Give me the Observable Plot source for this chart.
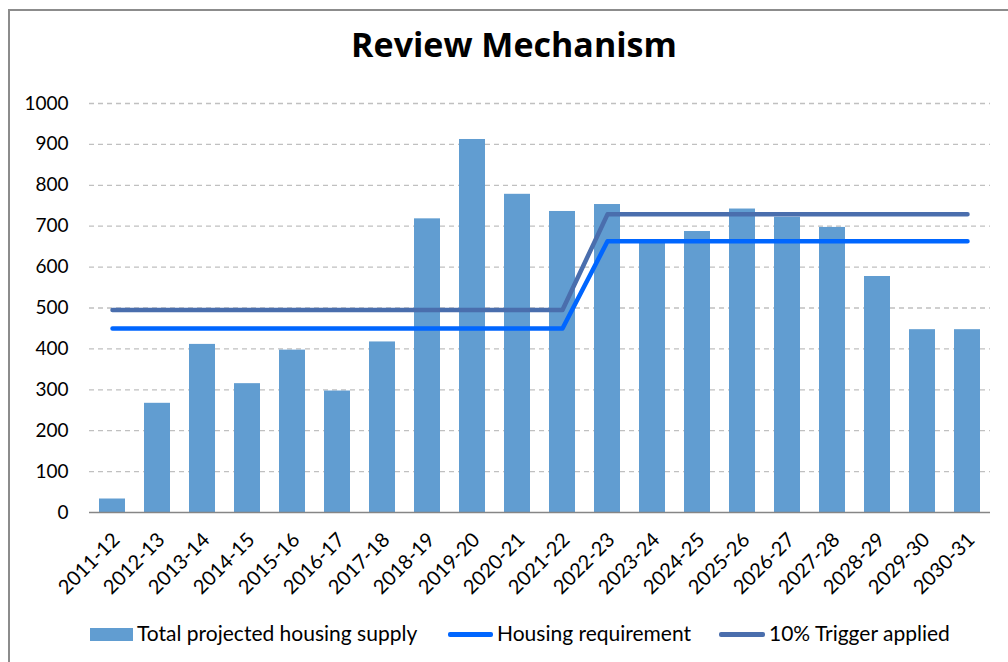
<!DOCTYPE html>
<html><head><meta charset="utf-8">
<script src="https://cdn.jsdelivr.net/npm/d3@7"></script>
<script src="https://cdn.jsdelivr.net/npm/@observablehq/plot@0.6"></script>
<style>
body{margin:0;background:#fff;width:1008px;height:662px;overflow:hidden;position:relative;font-family:Lato,sans-serif;color:#000;}
#frame{position:absolute;left:8px;top:9px;width:1100px;height:700px;border:2px solid #8c8c8c;box-sizing:border-box;}
#title{position:absolute;top:24px;left:0;width:1028px;text-align:center;font-family:"Open Sans",sans-serif;font-weight:bold;font-size:34px;line-height:40px;}
#chart{position:absolute;left:0;top:80px;}
.lg{position:absolute;}
.lt{position:absolute;top:621px;font-size:21px;line-height:24px;white-space:nowrap;}
</style></head><body>
<div id="frame"></div>
<div id="title">Review Mechanism</div>
<div id="chart"></div>
<div id="legend"></div>
<script>
const categories = ["2011-12","2012-13","2013-14","2014-15","2015-16","2016-17","2017-18","2018-19","2019-20","2020-21","2021-22","2022-23","2023-24","2024-25","2025-26","2026-27","2027-28","2028-29","2029-30","2030-31"];
const supply = [33,267,411,315,397,297,417,718,912,778,736,753,660,687,742,722,697,577,447,447];
const requirement = [450,450,450,450,450,450,450,450,450,450,450,663,663,663,663,663,663,663,663,663];
const trigger = [495,495,495,495,495,495,495,495,495,495,495,729,729,729,729,729,729,729,729,729];
const yTicks = [0,100,200,300,400,500,600,700,800,900,1000];
const seriesNames = ["Total projected housing supply","Housing requirement","10% Trigger applied"];
const colors = {bar:"#619dd1", req:"#0066ff", trig:"#4a6ead"};

const rows = (vals) => categories.map((c,i)=>({c, v: vals[i]}));

const chart = Plot.plot({
  width: 1008, height: 530,
  marginTop: 23, marginBottom: 98, marginLeft: 89, marginRight: 18,
  style: {fontFamily: "Lato, sans-serif", fontSize: "19px", color: "#000", background: "transparent", overflow: "visible"},
  x: {type: "band", domain: categories, paddingInner: 0.43, paddingOuter: 0.215, tickRotate: -45, tickSize: 0, tickPadding: 24, label: null},
  y: {domain: [0, 1000], ticks: yTicks, tickFormat: d => String(d), tickSize: 0, tickPadding: 21, label: null},
  marks: [
    Plot.ruleY(yTicks.filter(d => d > 0), {stroke: "#c0c0c0", strokeWidth: 1.3, strokeDasharray: "5,4"}),
    Plot.barY(rows(supply), {x: "c", y: "v", fill: colors.bar}),
    Plot.ruleY([0], {stroke: "#868686", strokeWidth: 1.5}),
    Plot.line(rows(requirement), {x: "c", y: "v", stroke: colors.req, strokeWidth: 4.5, strokeLinecap: "round", strokeLinejoin: "round"}),
    Plot.line(rows(trigger), {x: "c", y: "v", stroke: colors.trig, strokeWidth: 4.5, strokeLinecap: "round", strokeLinejoin: "round"})
  ]
});
chart.querySelectorAll('g[aria-label="x-axis tick label"]').forEach(g => {
  g.setAttribute("transform", "translate(4,0) " + (g.getAttribute("transform") || ""));
  g.setAttribute("font-size", "20");
});
document.getElementById("chart").appendChild(chart);

const lg = document.getElementById("legend");
function add(html){ lg.insertAdjacentHTML("beforeend", html); }
add(`<div class="lg" style="left:90px;top:628px;width:43px;height:13px;background:${colors.bar}"></div>`);
add(`<div class="lt" style="left:137px">${seriesNames[0]}</div>`);
add(`<div class="lg" style="left:448px;top:632px;width:45px;height:4.5px;border-radius:2px;background:${colors.req}"></div>`);
add(`<div class="lt" style="left:497px">${seriesNames[1]}</div>`);
add(`<div class="lg" style="left:719px;top:632px;width:46px;height:4.5px;border-radius:2px;background:${colors.trig}"></div>`);
add(`<div class="lt" style="left:769px">${seriesNames[2]}</div>`);
</script>
</body></html>
